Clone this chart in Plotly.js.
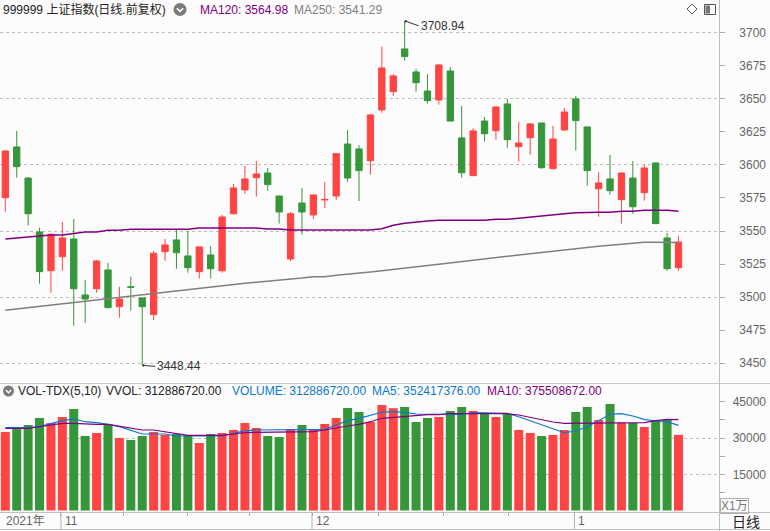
<!DOCTYPE html>
<html><head><meta charset="utf-8">
<script src="https://cdn.plot.ly/plotly-3.0.1.min.js"></script>
<style>html,body{margin:0;padding:0;background:#fcfcfc;}#chart{width:770px;height:531px;}</style>
</head><body><div id="chart"></div>
<script>
const dates = ['2021-10-25','2021-10-26','2021-10-27','2021-10-28','2021-10-29',
'2021-11-01','2021-11-02','2021-11-03','2021-11-04','2021-11-05','2021-11-08','2021-11-09','2021-11-10','2021-11-11','2021-11-12',
'2021-11-15','2021-11-16','2021-11-17','2021-11-18','2021-11-19','2021-11-22','2021-11-23','2021-11-24','2021-11-25','2021-11-26',
'2021-11-29','2021-11-30',
'2021-12-01','2021-12-02','2021-12-03','2021-12-06','2021-12-07','2021-12-08','2021-12-09','2021-12-10','2021-12-13','2021-12-14',
'2021-12-15','2021-12-16','2021-12-17','2021-12-20','2021-12-21','2021-12-22','2021-12-23','2021-12-24','2021-12-27','2021-12-28',
'2021-12-29','2021-12-30','2021-12-31',
'2022-01-04','2022-01-05','2022-01-06','2022-01-07','2022-01-10','2022-01-11','2022-01-12','2022-01-13','2022-01-14','2022-01-17'];

const open = [3575.2,3613.6,3590.1,3549.3,3520.0,3530.6,3544.0,3501.7,3506.4,3520.6,3492.8,3507.9,3499.4,3486.8,3534.4,3543.3,3531.2,3519.3,3531.9,3520.0,
3563.1,3581.1,3590.4,3593.9,3576.5,3528.9,3571.2,3562.2,3573.5,3576.5,3615.8,3612.1,3603.2,3641.6,3655.4,3687.7,3670.3,3655.9,3649.1,3671.0,
3620.4,3591.9,3633.2,3625.9,3646.1,3613.8,3620.6,3631.7,3597.2,3626.4,3649.9,3628.7,3582.0,3589.4,3573.7,3590.1,3579.0,3601.5,3544.8,3522.3];
const high = [3611.3,3625.7,3590.5,3552.6,3548.0,3556.9,3559.1,3513.0,3528.2,3525.9,3507.9,3515.5,3499.8,3534.9,3544.0,3550.8,3550.0,3538.3,3538.7,3562.2,
3585.6,3599.4,3603.0,3597.7,3576.8,3564.4,3582.6,3577.5,3587.1,3609.0,3626.4,3614.9,3638.5,3689.4,3668.8,3708.94,3672.6,3668.8,3676.0,3674.1,
3644.6,3627.7,3636.3,3644.0,3649.9,3632.5,3631.7,3632.0,3629.5,3643.1,3652.1,3629.0,3594.7,3607.5,3594.2,3603.0,3600.0,3601.8,3548.5,3546.3];
const low = [3564.7,3590.4,3554.1,3510.2,3503.4,3520.0,3478.4,3480.7,3503.4,3491.5,3484.5,3489.8,3448.44,3482.8,3527.6,3521.5,3518.5,3514.0,3514.0,3518.5,
3562.5,3578.0,3576.0,3580.5,3555.6,3527.1,3547.3,3559.1,3567.4,3573.5,3587.1,3572.7,3592.6,3639.5,3652.1,3678.8,3655.4,3646.3,3645.6,3632.7,
3590.4,3591.5,3617.6,3619.1,3613.0,3602.5,3607.8,3597.2,3596.4,3625.7,3610.8,3584.3,3560.9,3577.5,3555.6,3563.1,3573.0,3555.3,3520.0,3520.0];
const close = [3610.5,3598.7,3563.1,3519.3,3547.6,3544.8,3506.4,3498.6,3527.4,3492.1,3498.6,3507.5,3492.8,3533.2,3539.5,3533.6,3522.3,3538.0,3521.5,3560.6,
3582.6,3589.4,3593.2,3585.1,3564.4,3563.1,3564.4,3577.3,3573.9,3608.5,3590.1,3595.7,3637.8,3673.3,3667.3,3681.9,3662.2,3648.6,3675.6,3633.2,
3594.1,3625.7,3623.6,3643.8,3619.1,3616.6,3631.0,3597.9,3619.6,3640.0,3633.5,3595.7,3586.4,3580.5,3593.9,3568.4,3597.7,3555.6,3521.5,3541.7];

const ma120 = [3544.0,3544.8,3545.5,3546.0,3547.0,3547.0,3548.0,3549.3,3549.3,3550.6,3550.6,3551.3,3551.3,3551.3,3551.3,3551.3,3551.3,3552.3,3552.3,3552.3,
3552.3,3552.3,3552.3,3551.6,3551.6,3550.8,3550.8,3550.8,3550.8,3550.8,3550.8,3550.8,3550.8,3551.8,3554.4,3555.9,3556.9,3557.6,3558.2,3558.2,
3558.2,3558.2,3558.2,3558.9,3558.9,3559.7,3560.4,3561.2,3562.2,3563.0,3563.8,3564.2,3564.2,3564.2,3565.0,3565.0,3565.7,3565.7,3565.7,3564.98];
const ma250 = [3490.1,3491.1,3492.1,3493.1,3494.1,3494.9,3495.8,3496.9,3497.9,3498.9,3499.6,3500.7,3501.7,3502.6,3503.7,3504.7,3505.8,3507.0,3507.9,3508.7,
3509.5,3510.5,3511.3,3512.0,3513.0,3513.8,3514.5,3515.5,3515.5,3516.6,3517.3,3518.3,3519.1,3520.0,3521.1,3522.0,3522.9,3523.9,3524.8,3525.9,
3526.8,3527.9,3528.9,3529.9,3530.9,3531.9,3532.9,3533.9,3534.9,3535.9,3537.0,3537.7,3538.5,3539.2,3540.0,3540.7,3541.5,3541.5,3541.5,3541.29];

// volume in units of 10,000 (万)
const volume = [32480,34420,35370,38260,36200,38680,41980,30820,32060,35370,30000,29170,30820,32480,31240,31650,31240,27930,31650,32060,
33300,36200,34130,30820,30410,33720,35370,33300,35780,38260,42390,40740,36610,43630,42270,42810,36610,38260,38680,41150,
42810,41150,39920,38680,39920,33300,32060,30820,31240,33300,40740,42810,37440,44050,36200,36200,34540,37440,37850,31289];
const volMa5 = [34255,34255,34255,34670,36070,37150,37850,36730,36320,35660,34670,33300,31650,31650,31650,30820,30820,30820,30820,30820,
31940,33010,33300,33300,33300,33300,33300,33300,33590,35370,37150,38140,39500,40620,40870,40620,39920,39920,39920,39790,
39790,40450,40450,40450,40200,38800,37150,35250,33590,32190,32890,34670,37150,39790,40040,39090,37720,37020,36730,35242];
const volMa10 = [34010,34010,34010,34670,35370,36070,36070,35780,35660,35660,34960,34010,33300,33300,32600,31940,31110,31110,31110,31110,
31650,32190,32350,32350,32350,32350,32350,32600,33300,34255,34960,35660,36730,38140,38550,39090,39380,39630,39630,40040,
40040,40040,40040,40040,40040,39500,38550,37440,36610,36070,36070,36070,36070,36070,36320,36320,36320,37150,37730,37551];

const yearLabel = '2021年';

// ---------- geometry helpers ----------
const W = 770, H = 531, RM = 4;
const PW = W - RM;
const px = x => x / PW;
const py = y => 1 - y / H;
const AXIS_X = 719;

const idx = dates.map((d, i) => i);
const UP = '#FF4444', DOWN = '#36963A';
const PURPLE = '#800080', GRAY = '#808080', BLUE = '#0A78D2';
const volColors = close.map((c, i) => c >= open[i] ? UP : DOWN);

const monthStarts = [];
dates.forEach((d, i) => { if (i > 0 && d.slice(5, 7) !== dates[i - 1].slice(5, 7)) monthStarts.push(i); });
const monthLabels = monthStarts.map(i => String(parseInt(dates[i].slice(5, 7), 10)));

const FONT = 'Liberation Sans, Arial, Noto Sans CJK SC, sans-serif';

const traces = [
  {type: 'candlestick', x: idx, open: open, high: high, low: low, close: close,
   xaxis: 'x', yaxis: 'y', whiskerwidth: 0,
   increasing: {line: {color: UP, width: 1}, fillcolor: UP},
   decreasing: {line: {color: DOWN, width: 1}, fillcolor: DOWN},
   hoverinfo: 'skip', showlegend: false},
  {type: 'scatter', mode: 'lines', x: idx, y: ma120, xaxis: 'x', yaxis: 'y',
   line: {color: PURPLE, width: 1.5}, hoverinfo: 'skip', showlegend: false},
  {type: 'scatter', mode: 'lines', x: idx, y: ma250, xaxis: 'x', yaxis: 'y',
   line: {color: GRAY, width: 1.5}, hoverinfo: 'skip', showlegend: false},
  {type: 'bar', x: idx, y: volume, xaxis: 'x', yaxis: 'y2',
   marker: {color: volColors, line: {width: 0}}, hoverinfo: 'skip', showlegend: false},
  {type: 'scatter', mode: 'lines', x: idx, y: volMa5, xaxis: 'x', yaxis: 'y2',
   line: {color: BLUE, width: 1.2}, hoverinfo: 'skip', showlegend: false},
  {type: 'scatter', mode: 'lines', x: idx, y: volMa10, xaxis: 'x', yaxis: 'y2',
   line: {color: PURPLE, width: 1.2}, hoverinfo: 'skip', showlegend: false}
];

const priceRange = [3435.1, 3724.7];
const volRange = [-578, 52724];
const priceDomain = [py(383), 1];
const volDomain = [py(512), py(383)];

const shapes = [];
const lineShape = (x0, y0, x1, y1, color, w) => ({type: 'line', xref: 'paper', yref: 'paper',
  x0: px(x0), y0: py(y0), x1: px(x1), y1: py(y1), line: {color: color, width: w || 1}, layer: 'above'});
shapes.push(lineShape(0, 383.5, W, 383.5, '#c8c8c8'));
shapes.push(lineShape(0, 512.5, W, 512.5, '#c0c0c0'));
shapes.push(lineShape(0, 529.5, W, 529.5, '#c0c0c0'));
shapes.push(lineShape(AXIS_X + 0.5, 0, AXIS_X + 0.5, H, '#bdbdbd'));
monthStarts.forEach(i => shapes.push({type: 'line', xref: 'x', yref: 'paper', x0: i - 0.12, x1: i - 0.12,
  y0: py(512), y1: py(529), line: {color: '#b0b0b0', width: 1}}));
// header icons
shapes.push({type: 'circle', xref: 'paper', yref: 'paper', x0: px(173.5), x1: px(186.5), y0: py(16), y1: py(3),
  fillcolor: '#7a7a7a', line: {width: 0}});
shapes.push({type: 'path', xref: 'paper', yref: 'paper',
  path: `M ${px(176.8)} ${py(8.2)} L ${px(180)} ${py(11.4)} L ${px(183.2)} ${py(8.2)}`, line: {color: '#fff', width: 1.6}});
shapes.push({type: 'circle', xref: 'paper', yref: 'paper', x0: px(3), x1: px(14), y0: py(396.5), y1: py(385.5),
  fillcolor: '#7a7a7a', line: {width: 0}});
shapes.push({type: 'path', xref: 'paper', yref: 'paper',
  path: `M ${px(5.8)} ${py(390)} L ${px(8.5)} ${py(392.7)} L ${px(11.2)} ${py(390)}`, line: {color: '#fff', width: 1.4}});
shapes.push({type: 'path', xref: 'paper', yref: 'paper',
  path: `M ${px(692)} ${py(4)} L ${px(697)} ${py(9)} L ${px(692)} ${py(14)} L ${px(687)} ${py(9)} Z`, line: {color: '#555', width: 1}});
shapes.push({type: 'rect', xref: 'paper', yref: 'paper', x0: px(704.5), x1: px(715.5), y0: py(14.5), y1: py(4.5),
  line: {color: '#555', width: 1}});
shapes.push({type: 'rect', xref: 'paper', yref: 'paper', x0: px(705.5), x1: px(710), y0: py(13.5), y1: py(5.5),
  fillcolor: '#777', line: {width: 0}});

const ann = (x, y, text, color, size, extra) => Object.assign({xref: 'paper', yref: 'paper', x: px(x), y: py(y),
  text: text, showarrow: false, xanchor: 'left', yanchor: 'middle', font: {family: FONT, size: size || 12, color: color || '#222'}}, extra || {});

const annotations = [
  ann(1, 10, '999999 上证指数(日线.前复权)', '#222', 12),
  ann(198, 10, 'MA120: 3564.98', PURPLE, 12),
  ann(292, 10, 'MA250: 3541.29', GRAY, 12),
  ann(16, 391, 'VOL-TDX(5,10)', '#222', 12),
  ann(104, 391, 'VVOL: 312886720.00', '#222', 12),
  ann(230, 391, 'VOLUME: 312886720.00', BLUE, 12),
  ann(370, 391, 'MA5: 352417376.00', BLUE, 12),
  ann(485, 391, 'MA10: 375508672.00', PURPLE, 12),
  ann(4, 521, yearLabel, '#666', 12),
  ann(730, 521.5, '日线', '#222', 14),
  ann(720, 506, 'X1万', '#777', 12, {bordercolor: '#b0b0b0', borderpad: 0, borderwidth: 1}),
  {xref: 'x', yref: 'y', x: idx[high.indexOf(Math.max(...high))], y: Math.max(...high),
   text: Math.max(...high).toFixed(2), showarrow: true, arrowhead: 1, arrowsize: 0.6, arrowwidth: 1, arrowcolor: '#333',
   ax: 14, ay: 5, xanchor: 'left', yanchor: 'middle', font: {family: FONT, size: 12, color: '#333'}},
  {xref: 'x', yref: 'y', x: idx[low.indexOf(Math.min(...low))], y: Math.min(...low),
   text: Math.min(...low).toFixed(2), showarrow: true, arrowhead: 1, arrowsize: 0.6, arrowwidth: 1, arrowcolor: '#333',
   ax: 13, ay: 1, xanchor: 'left', yanchor: 'middle', font: {family: FONT, size: 12, color: '#333'}}
];
monthStarts.forEach((i, k) => annotations.push({xref: 'x', yref: 'paper', x: i - 0.12, y: py(521), xshift: 2,
  text: monthLabels[k], showarrow: false, xanchor: 'left', yanchor: 'middle', font: {family: FONT, size: 12, color: '#666'}}));

const layout = {
  width: W, height: H,
  margin: {l: 0, r: RM, t: 0, b: 0, pad: 0},
  paper_bgcolor: '#fcfcfc', plot_bgcolor: '#fcfcfc',
  font: {family: FONT, size: 12, color: '#666'},
  showlegend: false, bargap: 0.21, boxgap: 0.21, hovermode: false,
  xaxis: {domain: [0, px(AXIS_X)], range: [-0.4645, 62.55], anchor: 'y2', showgrid: false, zeroline: false,
    showline: false, ticks: 'outside', ticklen: 3, tickcolor: '#aaa', tickmode: 'array',
    tickvals: [4.88, 10.4, 16.0, 21.4, 26.9, 32.75, 38.4, 44.1, 49.9], showticklabels: false,
    rangeslider: {visible: false}, fixedrange: true},
  yaxis: {domain: priceDomain, range: priceRange, anchor: 'x', side: 'right', showline: false,
    ticks: 'outside', ticklen: 5, tickcolor: '#aaa', tickmode: 'linear', tick0: 0, dtick: 50,
    showgrid: true, gridcolor: '#bdbdbd', griddash: 'dot', gridwidth: 1, showticklabels: false, zeroline: false,
    minor: {tickmode: 'linear', tick0: 0, dtick: 25, ticks: 'outside', ticklen: 5, tickcolor: '#aaa', showgrid: false}},
  yaxis3: {overlaying: 'y', anchor: 'free', position: 1, side: 'left', range: priceRange,
    tickmode: 'linear', tick0: 0, dtick: 25, ticks: '', showgrid: false, zeroline: false, showline: false,
    tickfont: {family: FONT, size: 12, color: '#666'}},
  yaxis2: {domain: volDomain, range: volRange, anchor: 'x', side: 'right', showline: false,
    ticks: 'outside', ticklen: 5, tickcolor: '#aaa', tickmode: 'array', tickvals: [15000, 30000],
    showgrid: true, gridcolor: '#bdbdbd', griddash: 'dot', gridwidth: 1, showticklabels: false, zeroline: false,
    minor: {tickmode: 'array', tickvals: [7500, 22500, 37500, 45000], ticks: 'outside', ticklen: 5, tickcolor: '#aaa', showgrid: false}},
  yaxis4: {overlaying: 'y2', anchor: 'free', position: 1, side: 'left', range: volRange,
    tickmode: 'array', tickvals: [15000, 30000, 45000], ticktext: ['15000', '30000', '45000'],
    ticks: '', showgrid: false, zeroline: false, showline: false,
    tickfont: {family: FONT, size: 12, color: '#666'}},
  shapes: shapes,
  annotations: annotations
};

// invisible traces so the overlay label axes are rendered
traces.push({type: 'scatter', x: [idx[0]], y: [priceRange[0]], xaxis: 'x', yaxis: 'y3', mode: 'markers',
  marker: {opacity: 0}, hoverinfo: 'skip', showlegend: false});
traces.push({type: 'scatter', x: [idx[0]], y: [volRange[0]], xaxis: 'x', yaxis: 'y4', mode: 'markers',
  marker: {opacity: 0}, hoverinfo: 'skip', showlegend: false});

Plotly.newPlot('chart', traces, layout, {staticPlot: true, displayModeBar: false});
</script>
</body></html>
